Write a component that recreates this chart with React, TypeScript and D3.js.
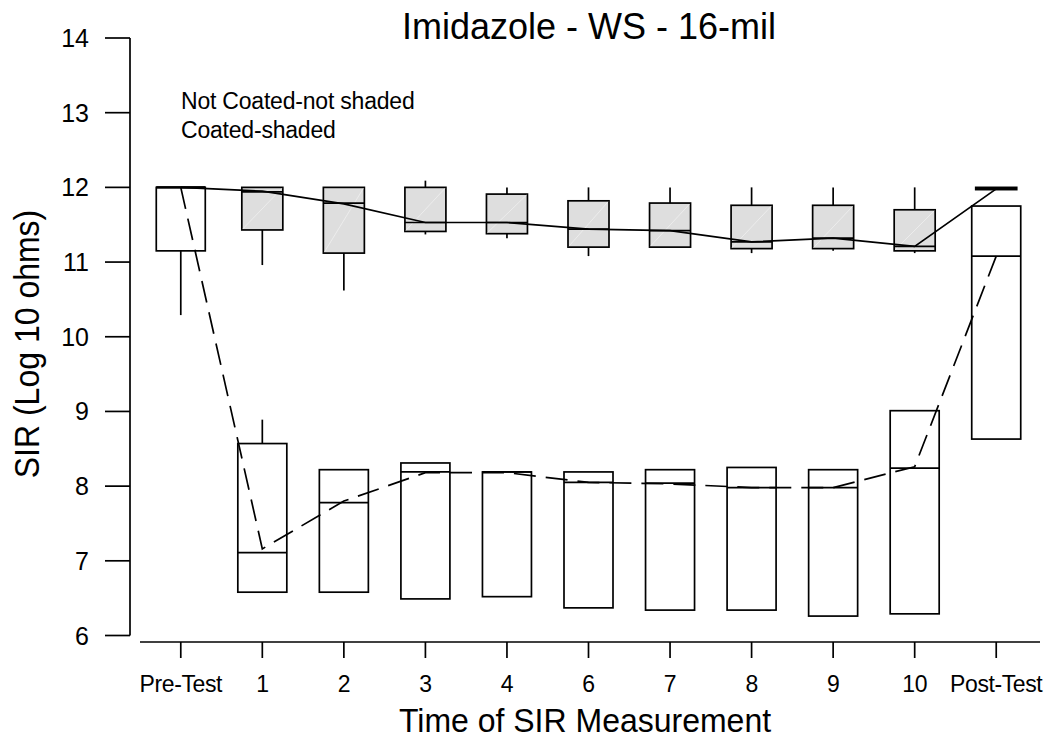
import React from "react";
import * as d3 from "d3";

const categories = ["Pre-Test", "1", "2", "3", "4", "6", "7", "8", "9", "10", "Post-Test"];

// Coated (shaded) boxes
const coatedMin = [12.0, 10.96, 10.62, 11.37, 11.32, 11.08, 11.2, 11.12, 11.15, 11.12, 11.97];
const coatedQ1 = [12.0, 11.43, 11.12, 11.41, 11.38, 11.2, 11.2, 11.18, 11.18, 11.15, 11.97];
const coatedMed = [12.0, 11.94, 11.79, 11.53, 11.53, 11.44, 11.42, 11.27, 11.32, 11.21, 11.98];
const coatedQ3 = [12.0, 12.0, 12.0, 12.0, 11.91, 11.82, 11.79, 11.76, 11.76, 11.7, 12.0];
const coatedMax = [12.0, 12.0, 12.0, 12.09, 12.0, 12.0, 12.0, 12.0, 12.0, 12.0, 12.0];
const coatedLine = [12.0, 11.95, 11.78, 11.53, 11.53, 11.44, 11.42, 11.27, 11.32, 11.21, 11.98];

// Not coated (not shaded) boxes
const uncMin = [10.29, 6.57, 6.58, 6.49, 6.52, 6.37, 6.34, 6.34, 6.26, 6.29, 8.63];
const uncQ1 = [11.15, 6.58, 6.58, 6.49, 6.52, 6.37, 6.34, 6.34, 6.26, 6.29, 8.63];
const uncMed = [12.0, 7.11, 7.78, 8.19, 8.19, 8.05, 8.04, 7.98, 7.98, 8.24, 11.08];
const uncQ3 = [12.0, 8.57, 8.22, 8.31, 8.19, 8.19, 8.22, 8.25, 8.22, 9.01, 11.75];
const uncMax = [12.0, 8.89, 8.22, 8.31, 8.19, 8.19, 8.22, 8.25, 8.22, 9.01, 11.75];
const uncLine = [12.0, 7.16, 7.8, 8.18, 8.18, 8.05, 8.03, 7.98, 7.98, 8.26, 11.08];

const yTicks = [6, 7, 8, 9, 10, 11, 12, 13, 14];

const W = 1050;
const H = 747;
const FONT = "'Liberation Sans', Arial, Helvetica, sans-serif";
const SW = 1.7;

export default function App() {
  const x = d3.scalePoint<string>().domain(categories).range([140, 1037]).padding(0.5);
  const y = d3.scaleLinear().domain([6, 14]).range([635.5, 38]);
  const coatedW = 41;
  const uncW = 49;

  const line = d3
    .line<number>()
    .x((_, i) => x(categories[i]) as number)
    .y((d) => y(d));

  const box = (
    key: string,
    i: number,
    mn: number,
    q1: number,
    md: number,
    q3: number,
    mx: number,
    w: number,
    fill: string,
    diag: boolean
  ) => {
    const cx = x(categories[i]) as number;
    const top = y(q3);
    const bot = y(q1);
    return (
      <g key={key}>
        <line x1={cx} x2={cx} y1={y(mx)} y2={top} stroke="#000" strokeWidth={SW} />
        <line x1={cx} x2={cx} y1={bot} y2={y(mn)} stroke="#000" strokeWidth={SW} />
        <rect x={cx - w / 2} y={top} width={w} height={Math.max(0, bot - top)} fill={fill} stroke="#000" strokeWidth={SW} />
        {diag && bot - top > 4 ? (
          <line x1={cx - w / 2 + 1} y1={bot - 1} x2={cx + w / 2 - 1} y2={top + 1} stroke="#f0f0f0" strokeWidth={0.8} />
        ) : null}
        <line x1={cx - w / 2} x2={cx + w / 2} y1={y(md)} y2={y(md)} stroke="#000" strokeWidth={SW} />
      </g>
    );
  };

  return (
    <svg width={W} height={H} style={{ position: "absolute", left: 0, top: 0, background: "#fff" }} fontFamily={FONT}>
      <rect x={0} y={0} width={W} height={H} fill="#fff" />
      {/* Title */}
      <text x={589} y={39} textAnchor="middle" fontSize={36} fill="#000">
        Imidazole - WS - 16-mil
      </text>
      {/* Legend text */}
      <text transform="translate(181,109) scale(1,1.04)" fontSize={23} letterSpacing={-0.2} fill="#000">Not Coated-not shaded</text>
      <text transform="translate(181,138) scale(1,1.04)" fontSize={23} letterSpacing={-0.2} fill="#000">Coated-shaded</text>

      {/* Y axis */}
      <line x1={130} x2={130} y1={y(14)} y2={y(6)} stroke="#000" strokeWidth={SW} />
      {yTicks.map((t) => (
        <g key={"yt" + t}>
          <line x1={105} x2={130} y1={y(t)} y2={y(t)} stroke="#000" strokeWidth={SW} />
          <text x={89} y={y(t)} dy="0.36em" textAnchor="end" fontSize={25} fill="#000">
            {t}
          </text>
        </g>
      ))}
      <text transform={`translate(38.5,344) rotate(-90) scale(1,1.09)`} textAnchor="middle" fontSize={32} fill="#000">
        SIR (Log 10 ohms)
      </text>

      {/* X axis */}
      <line x1={140} x2={1040} y1={642} y2={642} stroke="#000" strokeWidth={SW} />
      {categories.map((c) => (
        <g key={"xt" + c}>
          <line x1={x(c) as number} x2={x(c) as number} y1={642} y2={658} stroke="#000" strokeWidth={SW} />
          <text
            transform={`translate(${x(c) as number},692) scale(1,1.05)`}
            textAnchor="middle"
            fontSize={23}
            letterSpacing={-0.4}
            fill="#000"
          >
            {c}
          </text>
        </g>
      ))}
      <text transform="translate(585,732) scale(1,1.05)" textAnchor="middle" fontSize={32} fill="#000">
        Time of SIR Measurement
      </text>

      {/* Not coated boxes */}
      {categories.map((_, i) =>
        box("u" + i, i, uncMin[i], uncQ1[i], uncMed[i], uncQ3[i], uncMax[i], uncW, "#fff", false)
      )}
      {/* Coated boxes */}
      {categories.map((_, i) =>
        i === 0
          ? null
          : box("c" + i, i, coatedMin[i], coatedQ1[i], coatedMed[i], coatedQ3[i], coatedMax[i], coatedW, "#dedede", true)
      )}
      <line
        x1={(x(categories[0]) as number) - uncW / 2}
        x2={(x(categories[0]) as number) + uncW / 2}
        y1={y(coatedQ3[0])}
        y2={y(coatedQ3[0])}
        stroke="#000"
        strokeWidth={2.2}
      />

      {/* Connecting lines */}
      <path d={line(coatedLine) || ""} fill="none" stroke="#000" strokeWidth={1.7} />
      <path d={line(uncLine) || ""} fill="none" stroke="#000" strokeWidth={1.7} strokeDasharray="22,10" />
    </svg>
  );
}
